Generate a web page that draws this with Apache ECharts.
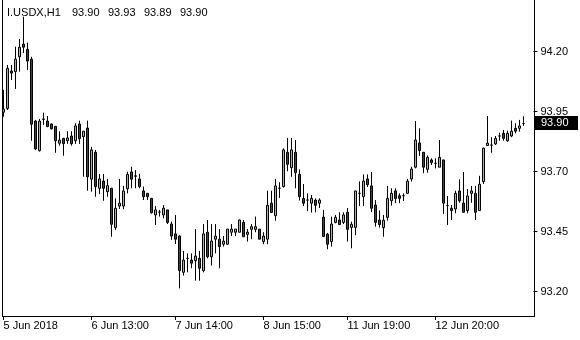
<!DOCTYPE html>
<html><head><meta charset="utf-8">
<script src="https://cdn.jsdelivr.net/npm/echarts@6/dist/echarts.min.js"></script>
<style>html,body{margin:0;padding:0;background:#fff}#c{width:580px;height:340px}</style>
</head><body><div id="c"></div>
<script>
const symbol = 'I.USDX,H1';
const opens = [93.947,93.963,94.119,94.116,94.178,94.231,94.209,94.168,93.910,93.787,
93.917,93.910,93.898,93.888,93.818,93.838,93.828,93.848,93.828,93.898,
93.845,93.881,93.668,93.780,93.630,93.660,93.616,93.630,93.466,93.556,
93.556,93.628,93.698,93.682,93.669,93.619,93.609,93.588,93.519,93.531,
93.519,93.540,93.481,93.440,93.431,93.280,93.338,93.331,93.328,93.338,
93.287,93.447,93.345,93.418,93.418,93.397,93.397,93.447,93.447,93.447,
93.488,93.438,93.459,93.459,93.460,93.408,93.418,93.568,93.516,93.630,
93.637,93.780,93.716,93.780,93.688,93.588,93.581,93.568,93.581,93.568,
93.510,93.439,93.408,93.488,93.498,93.488,93.530,93.467,93.467,93.609,
93.595,93.669,93.640,93.560,93.498,93.466,93.509,93.578,93.619,93.599,
93.599,93.609,93.669,93.718,93.819,93.780,93.709,93.748,93.734,93.718,
93.748,93.558,93.547,93.544,93.619,93.568,93.537,93.609,93.609,93.537,
93.658,93.808,93.810,93.815,93.848,93.859,93.828,93.848,93.880,93.880,
93.900];
const closes = [93.960,94.130,94.110,94.168,94.218,94.218,94.160,93.897,93.794,93.910,
93.919,93.887,93.878,93.828,93.831,93.816,93.840,93.816,93.890,93.837,
93.868,93.678,93.790,93.637,93.669,93.630,93.641,93.480,93.547,93.568,
93.619,93.688,93.668,93.680,93.637,93.595,93.595,93.528,93.540,93.531,
93.547,93.488,93.431,93.418,93.287,93.331,93.338,93.318,93.348,93.297,
93.440,93.345,93.410,93.431,93.387,93.410,93.460,93.460,93.460,93.498,
93.428,93.447,93.470,93.470,93.418,93.431,93.559,93.529,93.640,93.630,
93.790,93.730,93.790,93.695,93.595,93.568,93.581,93.588,93.559,93.581,
93.429,93.397,93.481,93.509,93.479,93.519,93.459,93.480,93.619,93.609,
93.660,93.645,93.547,93.488,93.479,93.497,93.588,93.609,93.588,93.588,
93.599,93.660,93.710,93.831,93.787,93.718,93.759,93.737,93.734,93.759,
93.568,93.558,93.537,93.609,93.578,93.530,93.598,93.619,93.530,93.647,
93.797,93.818,93.810,93.838,93.848,93.838,93.859,93.868,93.868,93.890,
93.900];
const lows = [93.928,93.956,94.081,94.044,94.116,94.194,94.123,93.828,93.790,93.783,
93.894,93.885,93.875,93.778,93.808,93.766,93.815,93.808,93.815,93.815,
93.678,93.620,93.616,93.595,93.606,93.578,93.595,93.428,93.456,93.544,
93.543,93.609,93.630,93.630,93.630,93.581,93.581,93.525,93.477,93.512,
93.505,93.481,93.415,93.398,93.213,93.266,93.280,93.297,93.245,93.245,
93.280,93.338,93.308,93.359,93.297,93.387,93.395,93.431,93.431,93.447,
93.428,93.408,93.418,93.447,93.418,93.397,93.397,93.529,93.495,93.590,
93.633,93.701,93.678,93.630,93.579,93.556,93.535,93.529,93.530,93.548,
93.428,93.376,93.387,93.484,93.477,93.481,93.408,93.380,93.435,93.556,
93.556,93.635,93.531,93.470,93.466,93.428,93.495,93.558,93.568,93.568,
93.577,93.609,93.658,93.713,93.765,93.693,93.695,93.727,93.713,93.718,
93.523,93.477,93.498,93.526,93.570,93.530,93.526,93.570,93.498,93.537,
93.648,93.807,93.778,93.810,93.828,93.828,93.824,93.843,93.859,93.866,
93.890];
const highs = [94.040,94.144,94.144,94.220,94.252,94.345,94.237,94.178,93.915,93.919,
93.945,93.931,93.900,93.890,93.868,93.840,93.868,93.868,93.901,93.912,
93.869,93.912,93.803,93.790,93.690,93.690,93.669,93.632,93.588,93.669,
93.640,93.699,93.720,93.706,93.690,93.637,93.610,93.590,93.556,93.540,
93.560,93.540,93.491,93.519,93.435,93.369,93.359,93.359,93.460,93.369,
93.481,93.498,93.481,93.481,93.460,93.431,93.460,93.481,93.460,93.500,
93.498,93.460,93.481,93.512,93.460,93.447,93.620,93.620,93.669,93.655,
93.797,93.840,93.840,93.831,93.709,93.648,93.609,93.602,93.588,93.588,
93.540,93.444,93.512,93.519,93.530,93.530,93.548,93.491,93.620,93.659,
93.688,93.688,93.698,93.581,93.538,93.519,93.640,93.630,93.630,93.609,
93.609,93.669,93.720,93.910,93.880,93.781,93.767,93.755,93.755,93.831,
93.750,93.598,93.560,93.620,93.668,93.698,93.627,93.640,93.640,93.682,
93.800,93.931,93.843,93.848,93.862,93.873,93.870,93.912,93.901,93.915,
93.930];
const xLabelIndex = [0, 22, 43, 65, 86, 108];
const xLabelText = ['5 Jun 2018', '6 Jun 13:00', '7 Jun 14:00', '8 Jun 15:00', '11 Jun 19:00', '12 Jun 20:00'];
const yTicks = [93.20, 93.45, 93.70, 93.95, 94.20];
const emptyRightBars = 2;

const n = opens.length;
const cats = [];
for (let i = 0; i < n + emptyRightBars; i++) cats.push(String(i));
const data = opens.map((o, i) => [o, closes[i], lows[i], highs[i]]);

const FONT = 'Liberation Sans';
const chart = echarts.init(document.getElementById('c'), null, {renderer: 'canvas'});
const pxPerUnit = 240;
const yMax = 94.20 + 51.5 / pxPerUnit;
const yMin = 93.20 - 24.5 / pxPerUnit;

chart.setOption({
  animation: false,
  backgroundColor: '#fff',
  grid: {left: 1.5, top: 0, width: 532, height: 316},
  xAxis: {
    type: 'category', data: cats, boundaryGap: true,
    axisLine: {show: false},
    axisTick: {show: true, alignWithLabel: true, length: 4,
      interval: (i) => xLabelIndex.includes(i), lineStyle: {color: '#000'}},
    axisLabel: {interval: (i) => xLabelIndex.includes(i),
      formatter: (v, i) => { const k = xLabelIndex.indexOf(i); return k >= 0 ? xLabelText[k] : ''; },
      align: 'left', margin: 4, color: '#000', fontFamily: FONT, fontSize: 11, hideOverlap: false},
    splitLine: {show: false}
  },
  yAxis: {
    type: 'value', position: 'right', min: yMin, max: yMax,
    axisLine: {show: false},
    axisTick: {show: true, length: 4, customValues: yTicks, lineStyle: {color: '#000'}},
    axisLabel: {customValues: yTicks, formatter: (v) => v.toFixed(2), margin: 7,
      color: '#000', fontFamily: FONT, fontSize: 11},
    splitLine: {show: false}
  },
  series: [{
    type: 'candlestick', data: data, barWidth: 2,
    itemStyle: {color: '#80e020', color0: '#e00000', borderColor: '#000', borderColor0: '#000',
      borderColorDoji: '#000', borderWidth: 1}
  }]
});

const last = n - 1;
const yTag = chart.convertToPixel({yAxisIndex: 0}, closes[last]);
const hdrVals = [opens[last], highs[last], lows[last], closes[last]];
const hdrX = [72, 108, 144, 180];
const graphics = [
  {type: 'line', shape: {x1: 2.5, y1: 0, x2: 2.5, y2: 316.5}, style: {stroke: '#000', lineWidth: 1}, z: 50},
  {type: 'line', shape: {x1: 534.5, y1: 0, x2: 534.5, y2: 316.5}, style: {stroke: '#000', lineWidth: 1}, z: 50},
  {type: 'line', shape: {x1: 2, y1: 316.5, x2: 535, y2: 316.5}, style: {stroke: '#000', lineWidth: 1}, z: 50},
  {type: 'text', x: 7, y: 13, style: {text: symbol, fill: '#000', font: '11px "Liberation Sans"', textVerticalAlign: 'middle'}, z: 60},
  {type: 'rect', shape: {x: 535, y: Math.round(yTag) - 7, width: 43, height: 14}, style: {fill: '#000'}, z: 70},
  {type: 'text', x: 541, y: Math.round(yTag), style: {text: closes[last].toFixed(2), fill: '#fff', font: '11px "Liberation Sans"', textVerticalAlign: 'middle'}, z: 71}
];
hdrVals.forEach((v, k) => graphics.push({type: 'text', x: hdrX[k], y: 13,
  style: {text: v.toFixed(2), fill: '#000', font: '11px "Liberation Sans"', textVerticalAlign: 'middle'}, z: 60}));
chart.setOption({graphic: graphics});
</script></body></html>
